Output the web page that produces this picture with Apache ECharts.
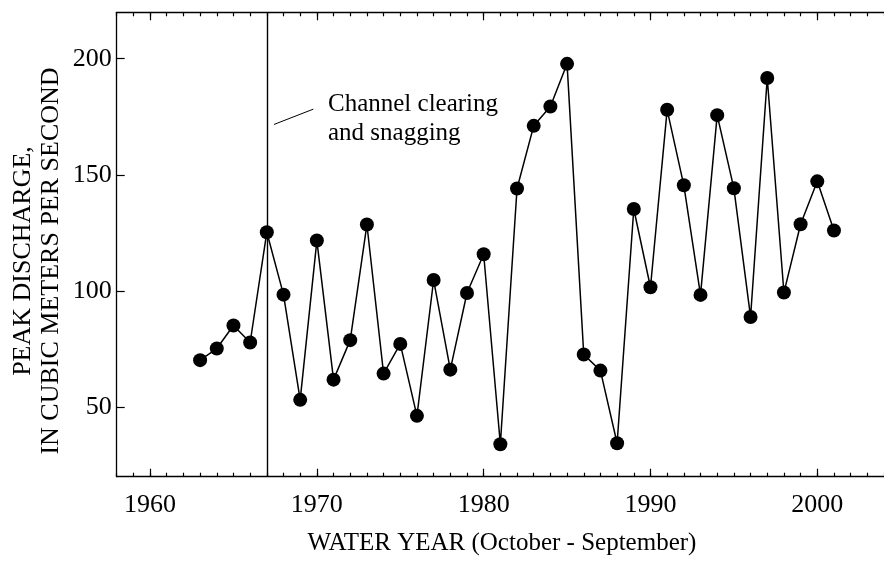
<!DOCTYPE html>
<html>
<head>
<meta charset="utf-8">
<script src="https://cdn.jsdelivr.net/npm/echarts@6/dist/echarts.min.js"></script>
<style>
html,body{margin:0;padding:0;background:#fff;}
#chart{width:884px;height:567px;}
</style>
</head>
<body>
<div id="chart"></div>
<script>
// ---- data ----
var years = [1963,1964,1965,1966,1967,1968,1969,1970,1971,1972,1973,1974,1975,1976,1977,1978,1979,1980,
             1981,1982,1983,1984,1985,1986,1987,1988,1989,1990,1991,1992,1993,1994,1995,1996,1997,1998,1999,2000,2001];
var peakDischarge = [70.2,75.2,85.1,77.8,125.3,98.4,53.1,121.7,61.8,78.8,128.6,64.4,77.2,46.2,104.7,66.1,99.1,115.8,
                     34.0,144.1,171.1,179.4,197.8,72.6,65.7,34.4,135.3,101.6,178.0,145.5,98.3,175.7,144.2,88.8,191.7,99.3,128.7,147.2,126.0];
var xTickLabels = [1960,1970,1980,1990,2000];
var yTickLabels = [50,100,150,200];
var eventYear = 1967;
var eventText = ['Channel clearing','and snagging'];
var xTitle = 'WATER YEAR (October - September)';
var yTitle = ['PEAK DISCHARGE,','IN CUBIC METERS PER SECOND'];

// ---- chart ----
var FONT = '"Liberation Serif", "Times New Roman", serif';
var xMin = 1958, xMax = 2004, yMin = 20, yMax = 220;
var minorYears = [];
for (var y = xMin; y <= xMax; y++) minorYears.push(y);

var seriesData = years.map(function(yr, i){ return [yr, peakDischarge[i]]; });
function plain(v){ return String(v); }

function xAxisDef(pos, ticks, len, showLine, showLabel) {
  return {
    type: 'value', position: pos, min: xMin, max: xMax,
    axisLine: {show: showLine, onZero: false, lineStyle: {color: '#000', width: 1.3}},
    axisTick: {show: true, inside: true, length: len, customValues: ticks, lineStyle: {color: '#000', width: 1.2}},
    axisLabel: {show: showLabel, customValues: ticks, formatter: plain, color: '#000', fontFamily: FONT, fontSize: 26, margin: 15},
    splitLine: {show: false}
  };
}

var chart = echarts.init(document.getElementById('chart'), null, {renderer: 'canvas'});
chart.setOption({
  animation: false,
  backgroundColor: '#fff',
  grid: {left: 116.7, top: 12.3, bottom: 90.3, right: -10.2, containLabel: false},
  xAxis: [
    xAxisDef('bottom', xTickLabels, 8, true, true),
    xAxisDef('bottom', minorYears, 4, false, false),
    xAxisDef('top', xTickLabels, 8, true, false),
    xAxisDef('top', minorYears, 4, false, false)
  ],
  yAxis: [{
    type: 'value', position: 'left', min: yMin, max: yMax,
    axisLine: {show: true, onZero: false, lineStyle: {color: '#000', width: 1.3}},
    axisTick: {show: true, inside: true, length: 8, customValues: yTickLabels, lineStyle: {color: '#000', width: 1.2}},
    axisLabel: {show: true, customValues: yTickLabels, formatter: plain, color: '#000', fontFamily: FONT, fontSize: 26, margin: 5},
    splitLine: {show: false}
  }],
  series: [{
    type: 'line',
    xAxisIndex: 0, yAxisIndex: 0,
    data: seriesData,
    symbol: 'circle', symbolSize: 14,
    itemStyle: {color: '#000'},
    lineStyle: {color: '#000', width: 1.5},
    markLine: {
      silent: true, symbol: ['none','none'], animation: false,
      label: {show: false},
      lineStyle: {color: '#000', type: 'solid', width: 1.4},
      data: [
        {xAxis: eventYear},
        [{coord: [eventYear + 0.43, 171.7], lineStyle: {width: 1}}, {coord: [eventYear + 2.79, 178.3]}]
      ]
    }
  }],
  graphic: [
    {type: 'text', x: 328, y: 90, style: {text: eventText.join('\n'), font: '25px ' + FONT, fill: '#000', lineHeight: 29, textAlign: 'left', textVerticalAlign: 'top'}},
    {type: 'text', x: 502, y: 543, style: {text: xTitle, font: '25px ' + FONT, fill: '#000', textAlign: 'center', textVerticalAlign: 'middle'}},
    {type: 'text', x: 37, y: 261, rotation: Math.PI/2, style: {text: yTitle.join('\n'), font: '26px ' + FONT, fill: '#000', lineHeight: 28, textAlign: 'center', textVerticalAlign: 'middle'}}
  ]
});
</script>
</body>
</html>
